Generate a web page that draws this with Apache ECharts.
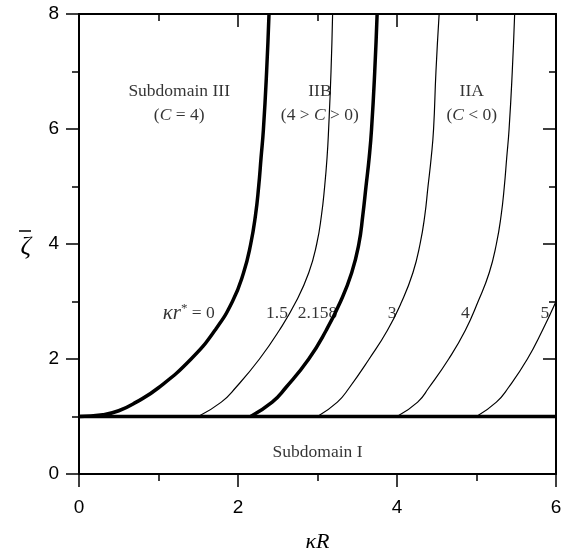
<!DOCTYPE html>
<html>
<head>
<meta charset="utf-8">
<script src="https://cdn.jsdelivr.net/npm/echarts@6/dist/echarts.min.js"></script>
<style>
  html, body { margin: 0; padding: 0; background: #fff; }
  #chart { width: 566px; height: 552px; }
</style>
</head>
<body>
<div id="chart"></div>
<script>
// curve data: kR values at given zeta levels
const zeta0 = [1, 1.03, 1.1, 1.25, 1.5, 2, 2.5, 3, 3.5, 4, 4.5, 5, 5.5, 6, 7, 8];
const kr0 = [0, 0.3, 0.5, 0.72, 1.0, 1.41, 1.71, 1.93, 2.07, 2.16, 2.22, 2.26, 2.29, 2.32, 2.36, 2.39];
const zeta = [1, 1.25, 1.5, 2, 2.5, 3, 3.5, 4, 4.5, 5, 5.5, 6, 7, 8];
const kr15 = [1.5, 1.79, 1.97, 2.27, 2.52, 2.73, 2.89, 2.99, 3.05, 3.09, 3.12, 3.14, 3.17, 3.19];
const kr2158 = [2.158, 2.43, 2.60, 2.89, 3.11, 3.29, 3.43, 3.52, 3.57, 3.61, 3.65, 3.68, 3.72, 3.75];
const kr3 = [3.0, 3.25, 3.40, 3.65, 3.88, 4.06, 4.20, 4.29, 4.35, 4.39, 4.43, 4.46, 4.49, 4.53];
const kr4 = [4.0, 4.26, 4.40, 4.65, 4.86, 5.02, 5.16, 5.25, 5.31, 5.35, 5.38, 5.41, 5.45, 5.48];
const zeta5 = [1, 1.25, 1.5, 2, 2.5, 3];
const kr5 = [5.0, 5.25, 5.40, 5.64, 5.83, 6.0];
const baseX = [0, 6];
const baseY = [1, 1];

// annotations
const annoText = ['Subdomain III', '({i|C} = 4)', 'IIB', '(4 > {i|C} > 0)', 'IIA', '({i|C} < 0)',
  'Subdomain I', '{k|κr}{sup|*} = 0', '1.5', '2.158', '3', '4', '5'];
const annoX = [1.26, 1.26, 3.03, 3.03, 4.94, 4.94, 3.0, 1.38, 2.49, 3.0, 3.94, 4.86, 5.86];
const annoY = [6.66, 6.23, 6.66, 6.23, 6.66, 6.23, 0.38, 2.8, 2.8, 2.8, 2.8, 2.8, 2.8];

const xTicks = ['0', '2', '4', '6'];
const yTicks = ['0', '2', '4', '6', '8'];

const zip = (xs, ys) => xs.map((x, i) => [x, ys[i]]);

const curve = (xs, ys, w) => ({
  type: 'line',
  data: zip(xs, ys),
  showSymbol: false,
  smooth: 0.5,
  silent: true,
  clip: true,
  lineStyle: { color: '#000', width: w }
});

const axisCommon = {
  type: 'value',
  axisLine: { show: true, onZero: false, lineStyle: { color: '#000', width: 2 } },
  axisTick: { show: true, length: 13, lineStyle: { color: '#000', width: 1.5 } },
  minorTick: { show: true, splitNumber: 2, length: 7, lineStyle: { color: '#000', width: 1.5 } },
  splitLine: { show: false },
  minorSplitLine: { show: false }
};

const labelFont = { color: '#000', fontFamily: 'Liberation Sans', fontSize: 19 };
const serif = 'Liberation Serif';

const chart = echarts.init(document.getElementById('chart'));
chart.setOption({
  animation: false,
  grid: { left: 79, right: 10, top: 14, bottom: 78, containLabel: false, outerBoundsMode: 'none' },
  xAxis: [
    Object.assign({}, axisCommon, {
      position: 'bottom', min: 0, max: 6, interval: 2,
      axisLabel: Object.assign({ margin: 24, formatter: v => xTicks[Math.round(v / 2)] }, labelFont),
      name: '{i|κR}', nameLocation: 'middle', nameGap: 57,
      nameTextStyle: { rich: { i: { fontFamily: serif, fontStyle: 'italic', fontSize: 22, color: '#000' } } }
    }),
    Object.assign({}, axisCommon, {
      position: 'top', min: 0, max: 6, interval: 2,
      axisTick: Object.assign({}, axisCommon.axisTick, { inside: true }),
      axisLabel: { show: false }
    })
  ],
  yAxis: [
    Object.assign({}, axisCommon, {
      position: 'left', min: 0, max: 8, interval: 2,
      axisLabel: Object.assign({ margin: 20, formatter: v => yTicks[Math.round(v / 2)] }, labelFont),
      name: '{bar| }\n{z|ζ}', nameLocation: 'middle', nameGap: 48, nameRotate: 0,
      nameTextStyle: {
        rich: {
          bar: { width: 12, height: 1.5, lineHeight: 6, backgroundColor: '#000', fontSize: 1 },
          z: { fontFamily: serif, fontStyle: 'italic', fontSize: 26, lineHeight: 26, color: '#000' }
        }
      }
    }),
    Object.assign({}, axisCommon, {
      position: 'right', min: 0, max: 8, interval: 2,
      axisTick: Object.assign({}, axisCommon.axisTick, { inside: true }),
      axisLabel: { show: false }
    })
  ],
  series: [
    curve(baseX, baseY, 3.5),
    curve(kr0, zeta0, 3.5),
    curve(kr15, zeta, 1.2),
    curve(kr2158, zeta, 3.5),
    curve(kr3, zeta, 1.2),
    curve(kr4, zeta, 1.2),
    curve(kr5, zeta5, 1.2),
    {
      type: 'scatter',
      silent: true,
      symbolSize: 0,
      data: annoX.map((x, i) => ({ value: [x, annoY[i]], name: annoText[i] })),
      label: {
        show: true,
        position: 'inside',
        formatter: p => p.name,
        color: '#000',
        fontFamily: serif,
        fontSize: 17.5,
        rich: {
          i: { fontFamily: serif, fontStyle: 'italic', fontSize: 17.5, color: '#000' },
          k: { fontFamily: serif, fontStyle: 'italic', fontSize: 21, color: '#000' },
          sup: { fontFamily: serif, fontSize: 13, color: '#000', verticalAlign: 'top', padding: [0, 0, 8, 0] }
        }
      }
    }
  ]
});
</script>
</body>
</html>
